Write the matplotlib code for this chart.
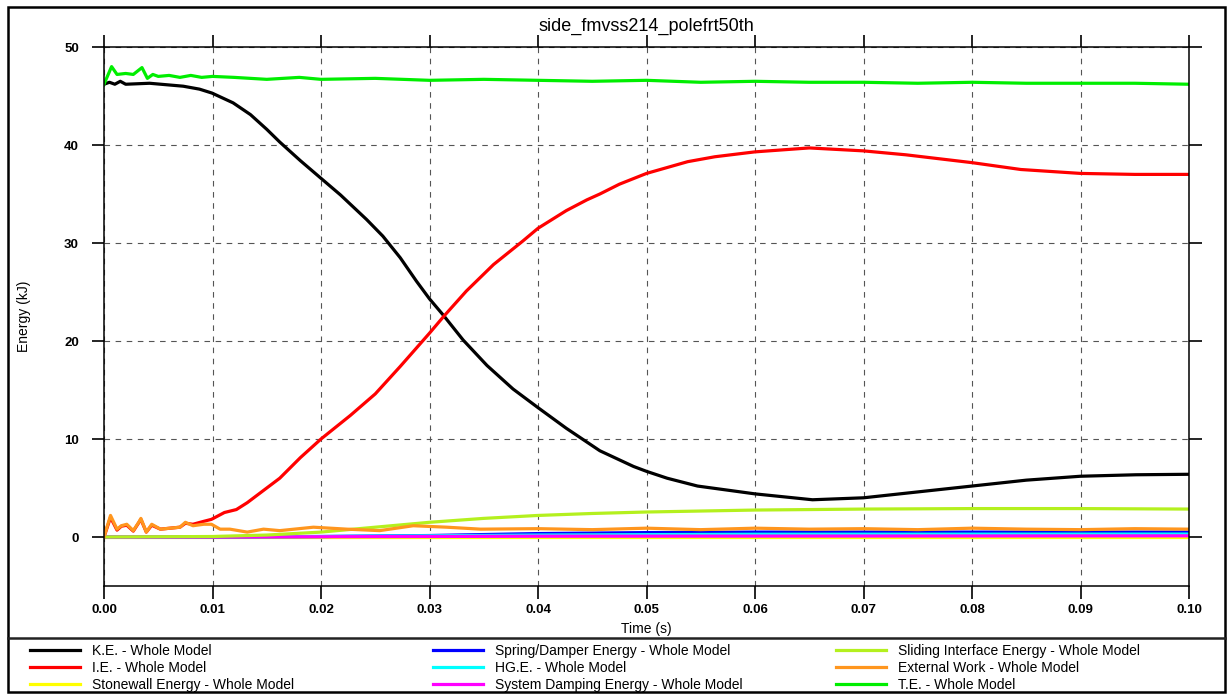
import matplotlib
matplotlib.use('Agg')
import matplotlib.pyplot as plt
from matplotlib.lines import Line2D
from matplotlib.patches import Rectangle

plt.rcParams['font.family'] = ['Liberation Sans', 'DejaVu Sans']

# ---- data (time in s, energy in kJ) ----
t_ke = [0.0, 0.0005, 0.001, 0.0015, 0.002, 0.0042, 0.0073, 0.0088, 0.00995, 0.0119,
        0.0135, 0.015, 0.0162, 0.0181, 0.020, 0.0218, 0.0242, 0.0257, 0.0273, 0.0288,
        0.030, 0.0313, 0.0331, 0.0353, 0.0377, 0.040, 0.0426, 0.0457, 0.0488, 0.050,
        0.0519, 0.0547, 0.060, 0.0653, 0.070, 0.075, 0.080, 0.085, 0.090, 0.0951, 0.100]
ke = [46.2, 46.4, 46.2, 46.5, 46.2, 46.3, 46.0, 45.7, 45.3, 44.3,
      43.1, 41.6, 40.3, 38.4, 36.6, 34.9, 32.4, 30.7, 28.5, 26.1,
      24.3, 22.6, 20.1, 17.5, 15.1, 13.2, 11.1, 8.8, 7.2, 6.7,
      6.0, 5.2, 4.4, 3.8, 4.0, 4.6, 5.2, 5.8, 6.2, 6.35, 6.4]

t_ie = [0.0, 0.0006, 0.0012, 0.0016, 0.0021, 0.0027, 0.0034, 0.0039, 0.0044, 0.0052,
        0.0061, 0.0070, 0.0075, 0.0082, 0.0092, 0.0099, 0.0111, 0.0122, 0.0132, 0.0144,
        0.0162, 0.0181, 0.020, 0.0227, 0.025, 0.0273, 0.030, 0.0313, 0.0334, 0.0359,
        0.0386, 0.040, 0.0426, 0.0445, 0.0457, 0.0475, 0.050, 0.0538, 0.0563, 0.060,
        0.065, 0.070, 0.0739, 0.080, 0.0845, 0.090, 0.095, 0.100]
ie = [0.0, 2.0, 0.7, 1.1, 1.2, 0.6, 1.8, 0.5, 1.2, 0.8,
      0.9, 1.0, 1.4, 1.3, 1.6, 1.8, 2.5, 2.8, 3.5, 4.5,
      6.0, 8.1, 10.0, 12.4, 14.6, 17.4, 20.8, 22.5, 25.1, 27.8,
      30.2, 31.5, 33.3, 34.4, 35.0, 36.0, 37.1, 38.3, 38.8, 39.3,
      39.7, 39.4, 39.0, 38.2, 37.5, 37.1, 37.0, 37.0]

t_sw = [0.0, 0.1]
sw = [0.0, 0.0]

t_sd = [0.0, 0.01, 0.02, 0.03, 0.035, 0.04, 0.05, 0.06, 0.07, 0.08, 0.09, 0.1]
sd = [0.0, 0.0, 0.05, 0.15, 0.25, 0.35, 0.45, 0.5, 0.5, 0.5, 0.5, 0.5]

t_hg = [0.0, 0.02, 0.04, 0.06, 0.1]
hg = [0.0, 0.05, 0.2, 0.28, 0.3]

t_dmp = [0.0, 0.01, 0.04, 0.1]
dmp = [0.0, 0.0, 0.08, 0.12]

t_si = [0.0, 0.01, 0.015, 0.02, 0.025, 0.03, 0.035, 0.04, 0.045, 0.05, 0.06, 0.07, 0.08, 0.09, 0.1]
si = [0.0, 0.05, 0.2, 0.5, 1.0, 1.5, 1.9, 2.2, 2.4, 2.55, 2.75, 2.85, 2.9, 2.9, 2.85]

t_ext = [0.0, 0.0006, 0.0012, 0.0016, 0.0021, 0.0027, 0.0032, 0.0034, 0.0039, 0.0044,
         0.0052, 0.0061, 0.0070, 0.0075, 0.0082, 0.0092, 0.0099, 0.0107, 0.0116, 0.0132,
         0.0147, 0.0162, 0.0193, 0.0224, 0.0254, 0.0285, 0.0316, 0.0347, 0.040, 0.045,
         0.050, 0.055, 0.060, 0.065, 0.070, 0.075, 0.080, 0.085, 0.090, 0.095, 0.100]
ext = [0.0, 2.2, 0.8, 1.15, 1.3, 0.65, 1.5, 1.9, 0.5, 1.3,
       0.8, 0.9, 1.0, 1.5, 1.15, 1.3, 1.3, 0.8, 0.8, 0.5,
       0.8, 0.65, 1.0, 0.8, 0.65, 1.15, 1.0, 0.8, 0.85, 0.75,
       0.9, 0.75, 0.9, 0.8, 0.85, 0.75, 0.9, 0.8, 0.75, 0.85, 0.8]

t_te = [0.0, 0.0007, 0.0012, 0.002, 0.0027, 0.0035, 0.004, 0.0045, 0.005, 0.006,
        0.007, 0.008, 0.009, 0.010, 0.012, 0.015, 0.018, 0.020, 0.025, 0.030,
        0.035, 0.040, 0.045, 0.050, 0.055, 0.060, 0.065, 0.070, 0.075, 0.080,
        0.085, 0.090, 0.095, 0.100]
te = [46.2, 48.0, 47.2, 47.3, 47.2, 47.9, 46.8, 47.2, 47.0, 47.1,
      46.9, 47.1, 46.9, 47.0, 46.9, 46.7, 46.9, 46.7, 46.8, 46.6,
      46.7, 46.6, 46.5, 46.6, 46.4, 46.5, 46.4, 46.4, 46.3, 46.4,
      46.3, 46.3, 46.3, 46.2]

series = [
    (t_ke, ke, '#000000', 'K.E. - Whole Model'),
    (t_ie, ie, '#ff0000', 'I.E. - Whole Model'),
    (t_sw, sw, '#ffff00', 'Stonewall Energy - Whole Model'),
    (t_sd, sd, '#0000ff', 'Spring/Damper Energy - Whole Model'),
    (t_hg, hg, '#00ffff', 'HG.E. - Whole Model'),
    (t_dmp, dmp, '#ff00ff', 'System Damping Energy - Whole Model'),
    (t_si, si, '#b4f01e', 'Sliding Interface Energy - Whole Model'),
    (t_ext, ext, '#ff961e', 'External Work - Whole Model'),
    (t_te, te, '#00ee00', 'T.E. - Whole Model'),
]

W, H = 1231, 696
fig = plt.figure(figsize=(W / 100, H / 100), dpi=100)
ax = fig.add_axes([104 / W, 1 - 586 / H, (1189 - 104) / W, (586 - 47) / H])

lines = []
for t, e, c, lab in series:
    ln, = ax.plot(t, e, color=c, lw=2.3, label=lab, solid_joinstyle='round')
    lines.append(ln)

ax.set_xlim(0, 0.1)
ax.set_ylim(-5, 50)
ax.set_xticks([i / 100 for i in range(11)])
ax.set_yticks([0, 10, 20, 30, 40, 50])
ax.set_xticklabels(['%.2f' % (i / 100) for i in range(11)], fontweight='bold', fontsize=9.5)
ax.set_yticklabels(['0', '10', '20', '30', '40', '50'], fontweight='bold', fontsize=9.5)
ax.tick_params(axis='x', direction='out', length=9, width=1.2, top=True, pad=4)
ax.tick_params(axis='y', direction='out', length=9, width=1.2, right=True, pad=9)
ax.grid(True, color='#555555', lw=0.8, linestyle=(0, (5, 5)))
for s in ax.spines.values():
    s.set_linewidth(1.1)

ax.set_xlabel('Time (s)', fontsize=10, labelpad=4)
ax.set_ylabel('Energy (kJ)', fontsize=10, labelpad=24)
fig.text(0.525, 1 - 26 / H, 'side_fmvss214_polefrt50th', ha='center', va='center', fontsize=13)

# outer frame and legend separator
fig.add_artist(Rectangle((8 / W, 1 - 692 / H), (1225 - 8) / W, (692 - 7) / H,
                         transform=fig.transFigure, fill=False, lw=1.8, ec='black'))
fig.add_artist(Line2D([8 / W, 1225 / W], [1 - 638 / H, 1 - 638 / H],
                      transform=fig.transFigure, color='#222222', lw=1.8))

cols = [30, 433, 836]
for k, x0 in enumerate(cols):
    fig.legend(handles=lines[3 * k:3 * k + 3], loc='upper left',
               bbox_to_anchor=(x0 / W, 1 - 644 / H), frameon=False,
               fontsize=10, handlelength=3.6, handletextpad=0.85,
               labelspacing=0.2, borderpad=0, borderaxespad=0)

fig.savefig('out.png', dpi=100)
